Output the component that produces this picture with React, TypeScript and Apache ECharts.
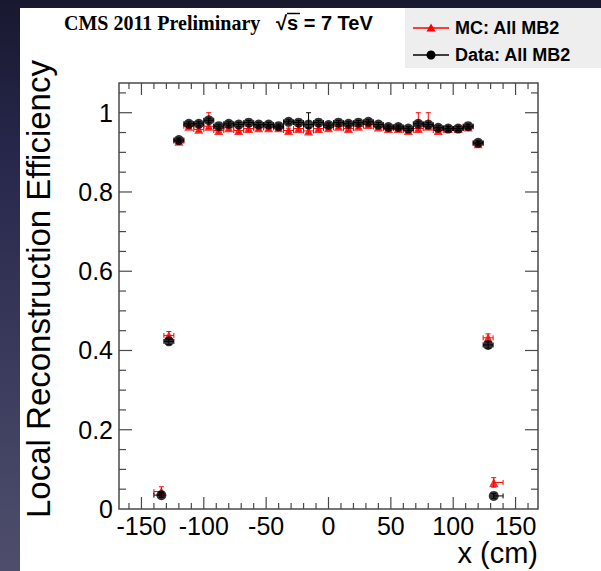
import React, { useEffect, useRef } from 'react';
import * as echarts from 'echarts';

// ---------------- data ----------------
const X_CM = [-134, -128, -120, -112, -104, -96, -88, -80, -72, -64, -56, -48, -40, -32, -24, -16, -8, 0,
  8, 16, 24, 32, 40, 48, 56, 64, 72, 80, 88, 96, 104, 112, 120, 128, 132.5];
const X_ERR_LO = [6, 4, 4, 4, 4, 4, 4, 4, 4, 4, 4, 4, 4, 4, 4, 4, 4, 4, 4, 4, 4, 4, 4, 4, 4, 4, 4, 4, 4, 4, 4, 4, 4, 4, 0];
const X_ERR_HI = [0, 4, 4, 4, 4, 4, 4, 4, 4, 4, 4, 4, 4, 4, 4, 4, 4, 4, 4, 4, 4, 4, 4, 4, 4, 4, 4, 4, 4, 4, 4, 4, 4, 4, 7.5];

const DATA_EFF = [0.035, 0.423, 0.931, 0.972, 0.972, 0.981, 0.966, 0.972, 0.970, 0.975, 0.970, 0.970, 0.966,
  0.977, 0.975, 0.970, 0.975, 0.969, 0.975, 0.972, 0.975, 0.977, 0.970, 0.964, 0.964, 0.960, 0.972, 0.970,
  0.962, 0.960, 0.960, 0.966, 0.924, 0.414, 0.033];
const DATA_ERR_LO = [0.006, 0.008, 0.005, 0.005, 0.005, 0.005, 0.005, 0.005, 0.005, 0.005, 0.005, 0.005, 0.005,
  0.005, 0.005, 0.008, 0.005, 0.005, 0.005, 0.005, 0.005, 0.005, 0.005, 0.005, 0.005, 0.005, 0.005, 0.005,
  0.005, 0.005, 0.005, 0.005, 0.005, 0.008, 0.006];
const DATA_ERR_HI = [0.006, 0.008, 0.005, 0.005, 0.005, 0.005, 0.005, 0.005, 0.005, 0.005, 0.005, 0.005, 0.005,
  0.005, 0.005, 0.030, 0.005, 0.005, 0.005, 0.005, 0.005, 0.005, 0.005, 0.005, 0.005, 0.005, 0.005, 0.005,
  0.005, 0.005, 0.005, 0.005, 0.005, 0.008, 0.006];

const MC_EFF = [0.044, 0.438, 0.928, 0.966, 0.958, 0.966, 0.955, 0.962, 0.955, 0.960, 0.962, 0.962, 0.962,
  0.955, 0.960, 0.954, 0.960, 0.962, 0.966, 0.960, 0.966, 0.970, 0.964, 0.960, 0.960, 0.955, 0.960, 0.966,
  0.955, 0.960, 0.960, 0.964, 0.922, 0.432, 0.067];
const MC_ERR_LO = [0.012, 0.010, 0.006, 0.006, 0.006, 0.006, 0.006, 0.006, 0.006, 0.006, 0.006, 0.006, 0.006,
  0.006, 0.006, 0.006, 0.006, 0.006, 0.006, 0.006, 0.006, 0.006, 0.006, 0.006, 0.006, 0.006, 0.006, 0.006,
  0.006, 0.006, 0.006, 0.006, 0.006, 0.010, 0.012];
const MC_ERR_HI = [0.012, 0.010, 0.006, 0.006, 0.006, 0.034, 0.006, 0.006, 0.006, 0.006, 0.006, 0.006, 0.006,
  0.006, 0.006, 0.006, 0.006, 0.006, 0.006, 0.006, 0.006, 0.006, 0.006, 0.006, 0.006, 0.006, 0.040, 0.034,
  0.006, 0.006, 0.006, 0.006, 0.006, 0.010, 0.012];

const X_TICKS = [-160, -150, -140, -130, -120, -110, -100, -90, -80, -70, -60, -50, -40, -30, -20, -10, 0,
  10, 20, 30, 40, 50, 60, 70, 80, 90, 100, 110, 120, 130, 140, 150, 160];
const Y_TICKS = [0.05, 0.1, 0.15, 0.2, 0.25, 0.3, 0.35, 0.4, 0.45, 0.5, 0.55, 0.6, 0.65, 0.7, 0.75, 0.8,
  0.85, 0.9, 0.95, 1.0, 1.05];

const TITLE_LEFT = 'CMS 2011 Preliminary';
const TITLE_RIGHT = '√s = 7 TeV';
const LEGEND_MC = 'MC: All MB2';
const LEGEND_DATA = 'Data: All MB2';
const Y_TITLE = 'Local Reconstruction Efficiency';
const X_TITLE = 'x (cm)';

const SANS = '"Liberation Sans", Arial, Helvetica, sans-serif';
const SERIF = '"Liberation Serif", "Times New Roman", serif';
const AXIS_COLOR = '#4a4a4a';

function errRows(eff: number[], lo: number[], hi: number[]) {
  return X_CM.map((x, i) => [x, eff[i], x - X_ERR_LO[i], x + X_ERR_HI[i], eff[i] - lo[i], eff[i] + hi[i]]);
}

function errorBarRenderer(color: string) {
  return (params: any, api: any) => {
    const x = api.value(0), y = api.value(1);
    const pL = api.coord([api.value(2), y]);
    const pR = api.coord([api.value(3), y]);
    const pB = api.coord([x, api.value(4)]);
    const pT = api.coord([x, api.value(5)]);
    const st = { stroke: color, lineWidth: 1 };
    const c = 2.5;
    const ch: any[] = [];
    if (pR[0] - pL[0] > 0.5) {
      ch.push({ type: 'line', shape: { x1: pL[0], y1: pL[1], x2: pR[0], y2: pR[1] }, style: st });
      ch.push({ type: 'line', shape: { x1: pL[0], y1: pL[1] - c, x2: pL[0], y2: pL[1] + c }, style: st });
      ch.push({ type: 'line', shape: { x1: pR[0], y1: pR[1] - c, x2: pR[0], y2: pR[1] + c }, style: st });
    }
    ch.push({ type: 'line', shape: { x1: pB[0], y1: pB[1], x2: pT[0], y2: pT[1] }, style: st });
    ch.push({ type: 'line', shape: { x1: pT[0] - c, y1: pT[1], x2: pT[0] + c, y2: pT[1] }, style: st });
    ch.push({ type: 'line', shape: { x1: pB[0] - c, y1: pB[1], x2: pB[0] + c, y2: pB[1] }, style: st });
    return { type: 'group', children: ch };
  };
}

const isMajorX = (v: number) => Math.abs(v % 50) < 1e-6;
const isMajorY = (v: number) => Math.abs(v / 0.2 - Math.round(v / 0.2)) < 1e-6;

export default function App() {
  const ref = useRef<HTMLDivElement>(null);
  useEffect(() => {
    if (!ref.current) return;
    const chart = echarts.init(ref.current, undefined, { renderer: 'svg' });
    const tickStyle = { stroke: AXIS_COLOR, lineWidth: 1.2 };
    const option: any = {
      animation: false,
      backgroundColor: 'transparent',
      grid: {
        left: 119, top: 83, right: 63, bottom: 62,
        containLabel: false, outerBoundsMode: 'none',
        show: true, borderColor: AXIS_COLOR, borderWidth: 1.5, backgroundColor: 'transparent', z: 1,
      },
      xAxis: {
        type: 'value', min: -168, max: 168, splitNumber: 6,
        axisLine: { show: false }, axisTick: { show: false }, splitLine: { show: false },
        axisLabel: {
          fontSize: 25, color: '#000', fontFamily: SANS, margin: 4,
          formatter: (v: number) => (isMajorX(v) ? String(v) : ''),
        },
      },
      yAxis: {
        type: 'value', min: 0, max: 1.075, interval: 0.2,
        axisLine: { show: false }, axisTick: { show: false }, splitLine: { show: false },
        axisLabel: {
          fontSize: 25, color: '#000', fontFamily: SANS, margin: 6,
          formatter: (v: number) => (v > 1.01 ? '' : String(Number(v.toFixed(2)))),
        },
      },
      graphic: [
        { type: 'rect', z: -10, silent: true, shape: { x: 20, y: 8, width: 581, height: 563 }, style: { fill: '#ffffff' } },
        { type: 'text', x: 64, y: 23, style: { text: TITLE_LEFT, font: `bold 20px ${SERIF}`, fill: '#000', textVerticalAlign: 'middle' } },
        { type: 'text', x: 276, y: 23, style: { text: TITLE_RIGHT, font: `bold 20px ${SANS}`, fill: '#000', textVerticalAlign: 'middle' } },
        { type: 'line', shape: { x1: 287, y1: 13.5, x2: 300, y2: 13.5 }, style: { stroke: '#000', lineWidth: 1.5 } },
        { type: 'rect', shape: { x: 405, y: 8, width: 196, height: 60 }, style: { fill: '#eeeeee' } },
        { type: 'line', shape: { x1: 413, y1: 28, x2: 449, y2: 28 }, style: { stroke: '#ff0000', lineWidth: 1.3 } },
        { type: 'polygon', shape: { points: [[431, 23.5], [435.5, 31.5], [426.5, 31.5]] }, style: { fill: '#ff0000' } },
        { type: 'text', x: 455, y: 28, style: { text: LEGEND_MC, font: `bold 18px ${SANS}`, fill: '#000', textVerticalAlign: 'middle' } },
        { type: 'line', shape: { x1: 413, y1: 55, x2: 449, y2: 55 }, style: { stroke: '#000', lineWidth: 1.3 } },
        { type: 'circle', shape: { cx: 431, cy: 55, r: 4.5 }, style: { fill: '#000' } },
        { type: 'text', x: 455, y: 55, style: { text: LEGEND_DATA, font: `bold 18px ${SANS}`, fill: '#000', textVerticalAlign: 'middle' } },
        { type: 'text', x: 38, y: 518, rotation: Math.PI / 2, style: { text: Y_TITLE, font: `33px ${SANS}`, fill: '#000', textAlign: 'left', textVerticalAlign: 'middle' } },
        { type: 'text', x: 538, y: 553, style: { text: X_TITLE, font: `29px ${SANS}`, fill: '#000', textAlign: 'right', textVerticalAlign: 'middle' } },
      ],
      series: [
        {
          type: 'custom', name: 'xticks', silent: true, z: 1,
          data: X_TICKS.map((v) => [v, 0]),
          renderItem: (params: any, api: any) => {
            const v = api.value(0);
            const cs = params.coordSys;
            const px = api.coord([v, 0])[0];
            const L = isMajorX(v) ? 12 : 6;
            const b = cs.y + cs.height, t = cs.y;
            return {
              type: 'group', children: [
                { type: 'line', shape: { x1: px, y1: b, x2: px, y2: b - L }, style: tickStyle },
                { type: 'line', shape: { x1: px, y1: t, x2: px, y2: t + L }, style: tickStyle },
              ],
            };
          },
        },
        {
          type: 'custom', name: 'yticks', silent: true, z: 1,
          data: Y_TICKS.map((v) => [0, v]),
          renderItem: (params: any, api: any) => {
            const v = api.value(1);
            const cs = params.coordSys;
            const py = api.coord([0, v])[1];
            const L = isMajorY(v) ? 13 : 7;
            const l = cs.x, r = cs.x + cs.width;
            return {
              type: 'group', children: [
                { type: 'line', shape: { x1: l, y1: py, x2: l + L, y2: py }, style: tickStyle },
                { type: 'line', shape: { x1: r, y1: py, x2: r - L, y2: py }, style: tickStyle },
              ],
            };
          },
        },
        {
          type: 'custom', name: 'MC err', silent: true, z: 2,
          data: errRows(MC_EFF, MC_ERR_LO, MC_ERR_HI),
          renderItem: errorBarRenderer('#ff0000'),
        },
        {
          type: 'scatter', name: LEGEND_MC, z: 3, symbol: 'triangle', symbolSize: 9,
          itemStyle: { color: '#ff0000' },
          data: X_CM.map((x, i) => [x, MC_EFF[i]]),
        },
        {
          type: 'custom', name: 'Data err', silent: true, z: 4,
          data: errRows(DATA_EFF, DATA_ERR_LO, DATA_ERR_HI),
          renderItem: errorBarRenderer('#000000'),
        },
        {
          type: 'scatter', name: LEGEND_DATA, z: 5, symbol: 'circle', symbolSize: 10,
          itemStyle: { color: '#000000' },
          data: X_CM.map((x, i) => [x, DATA_EFF[i]]),
        },
      ],
    };
    chart.setOption(option);
    return () => chart.dispose();
  }, []);
  return (
    <div
      style={{
        position: 'fixed', left: 0, top: 0, width: 601, height: 571,
        background: 'linear-gradient(to bottom, #18182f 0%, #26264a 25%, #3e3e60 70%, #4e4e6c 100%)',
      }}
    >
      <div ref={ref} style={{ width: 601, height: 571 }} />
    </div>
  );
}
